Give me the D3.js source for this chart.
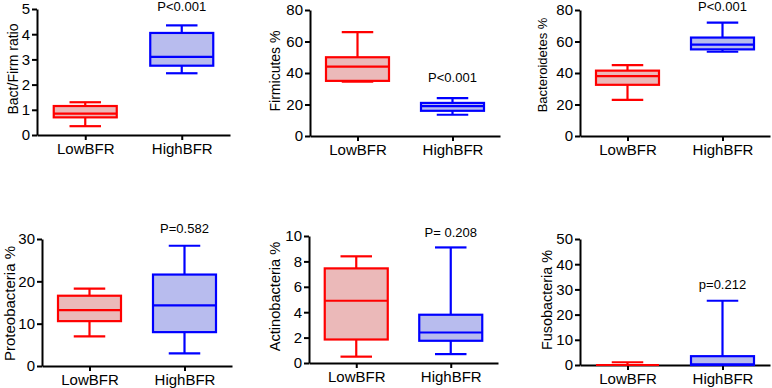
<!DOCTYPE html>
<html>
<head>
<meta charset="utf-8">
<script src="https://cdn.jsdelivr.net/npm/d3@7"></script>
<style>
  body { margin: 0; background: #fff; }
  svg { display: block; font-family: "Liberation Sans", Arial, sans-serif; }
</style>
</head>
<body>
<svg id="chart" width="772" height="388"></svg>
<script>
// data: [min, q1, median, q3, max]
const groups = ["LowBFR", "HighBFR"];
const yLabels = ["Bact/Firm ratio", "Firmicutes %", "Bacteroidetes %", "Proteobacteria %", "Actinobacteria %", "Fusobacteria %"];
const yMax = [5, 80, 80, 30, 10, 50];
const yTicks = [[0, 1, 2, 3, 4, 5], [0, 20, 40, 60, 80], [0, 20, 40, 60, 80], [0, 10, 20, 30], [0, 2, 4, 6, 8, 10], [0, 10, 20, 30, 40, 50]];
const pLabels = ["P<0.001", "P<0.001", "P<0.001", "P=0.582", "P= 0.208", "p=0.212"];
const lowStats = [
  [0.35, 0.7, 0.85, 1.15, 1.3],
  [34.5, 35, 44, 50, 66],
  [23, 32.5, 38, 41.5, 45],
  [7, 10.6, 13.2, 16.6, 18.3],
  [0.5, 1.85, 4.9, 7.45, 8.4],
  [0, 0, 0, 0, 1.1]
];
const highStats = [
  [2.45, 2.75, 3.1, 4.05, 4.35],
  [13.5, 16, 19, 21, 24],
  [53.5, 55, 58, 62.5, 72],
  [3, 8, 14.3, 21.6, 28.4],
  [0.7, 1.75, 2.4, 3.8, 9.1],
  [0, 0, 0.3, 3.5, 25.5]
];

// panel frames (pixels)
const layout = [
  { x0: 37, x1: 230, y0: 135, y1: 9, labX: 24, labY: -3, labSize: 14, pY: 11 },
  { x0: 310, x1: 500, y0: 136, y1: 10, labX: 35, labY: -2, labSize: 14, pY: 82 },
  { x0: 580, x1: 770, y0: 136, y1: 10, labX: 38, labY: -8, labSize: 13, pY: 11 },
  { x0: 42, x1: 232, y0: 366, y1: 239, labX: 32, labY: 1, labSize: 15, pY: 233 },
  { x0: 309, x1: 498, y0: 363, y1: 236, labX: 34, labY: -3, labSize: 14.6, pY: 237 },
  { x0: 580, x1: 770, y0: 365, y1: 239, labX: 33, labY: -2, labSize: 14.4, pY: 289 }
];

const colors = {
  LowBFR: { stroke: "#ff0000", fill: "#ebb9b9" },
  HighBFR: { stroke: "#0000ff", fill: "#b8bcee" }
};

const svg = d3.select("#chart");

layout.forEach((L, i) => {
  const g = svg.append("g");
  const x = d3.scalePoint().domain(groups).range([L.x0, L.x1]).padding(0.5);
  const y = d3.scaleLinear().domain([0, yMax[i]]).range([L.y0, L.y1]);
  const boxW = 63;

  // y axis
  const yAxis = g.append("g")
    .attr("transform", `translate(${L.x0},0)`)
    .call(d3.axisLeft(y).tickValues(yTicks[i]).tickFormat(d3.format("d")).tickSize(5).tickPadding(2).tickSizeOuter(0));
  yAxis.select(".domain").attr("stroke", "#000").attr("stroke-width", 2);
  yAxis.selectAll(".tick line").attr("stroke", "#000").attr("stroke-width", 2);
  yAxis.selectAll(".tick text").attr("font-size", 15).attr("fill", "#000").attr("font-family", "Liberation Sans, Arial, sans-serif");

  // x axis
  const xAxis = g.append("g")
    .attr("transform", `translate(0,${L.y0})`)
    .call(d3.axisBottom(x).tickSize(5).tickPadding(3).tickSizeOuter(0));
  xAxis.select(".domain").attr("stroke", "#000").attr("stroke-width", 2);
  xAxis.selectAll(".tick line").attr("stroke", "#000").attr("stroke-width", 2);
  xAxis.selectAll(".tick text").attr("font-size", 15).attr("fill", "#000").attr("font-family", "Liberation Sans, Arial, sans-serif");

  // boxes drawn over the axes
  const stats = [lowStats[i], highStats[i]];
  groups.forEach((grp, j) => {
    const s = stats[j];
    const cx = x(grp);
    const c = colors[grp];
    const bg = g.append("g")
      .attr("fill", "none")
      .attr("stroke", c.stroke)
      .attr("stroke-width", 2.2);
    // whiskers
    bg.append("line").attr("x1", cx).attr("x2", cx).attr("y1", y(s[0])).attr("y2", y(s[1]));
    bg.append("line").attr("x1", cx).attr("x2", cx).attr("y1", y(s[3])).attr("y2", y(s[4]));
    bg.append("line").attr("x1", cx - boxW / 4).attr("x2", cx + boxW / 4).attr("y1", y(s[0])).attr("y2", y(s[0]));
    bg.append("line").attr("x1", cx - boxW / 4).attr("x2", cx + boxW / 4).attr("y1", y(s[4])).attr("y2", y(s[4]));
    // box
    bg.append("rect")
      .attr("x", cx - boxW / 2)
      .attr("width", boxW)
      .attr("y", y(s[3]))
      .attr("height", Math.max(0, y(s[1]) - y(s[3])))
      .attr("fill", c.fill);
    bg.append("line").attr("x1", cx - boxW / 2).attr("x2", cx + boxW / 2).attr("y1", y(s[2])).attr("y2", y(s[2]));
  });

  // y label
  g.append("text")
    .attr("transform", `translate(${L.x0 - L.labX},${(L.y0 + L.y1) / 2 + L.labY}) rotate(-90)`)
    .attr("text-anchor", "middle")
    .attr("dy", "0.35em")
    .attr("font-size", L.labSize)
    .text(yLabels[i]);

  // p value
  g.append("text")
    .attr("x", x("HighBFR"))
    .attr("y", L.pY)
    .attr("text-anchor", "middle")
    .attr("font-size", 13)
    .text(pLabels[i]);
});
</script>
</body>
</html>
